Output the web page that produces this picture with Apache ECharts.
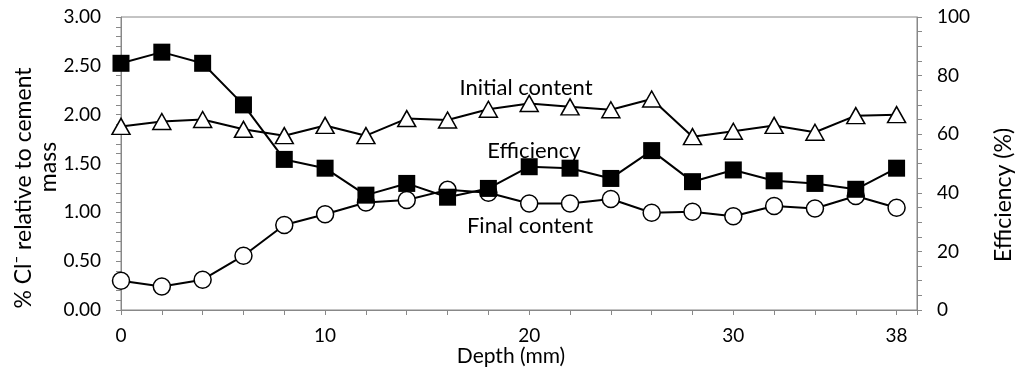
<!DOCTYPE html>
<html>
<head>
<meta charset="utf-8">
<script src="https://cdn.jsdelivr.net/npm/echarts@6/dist/echarts.min.js"></script>
<style>
html,body{margin:0;padding:0;background:#fff;}
#c{width:1024px;height:372px;}
</style>
</head>
<body>
<div id="c"></div>
<script>
const depth = [0,2,4,6,8,10,12,14,16,18,20,22,24,26,28,30,32,34,36,38];
const initialContent = [1.88,1.93,1.95,1.85,1.785,1.89,1.785,1.96,1.945,2.055,2.115,2.08,2.05,2.16,1.775,1.83,1.89,1.82,1.99,2.00];
const finalContent = [0.30,0.24,0.31,0.556,0.87,0.98,1.10,1.126,1.23,1.20,1.09,1.09,1.136,0.996,1.006,0.96,1.065,1.04,1.167,1.047];
const efficiency = [84.2,88.0,84.2,70.0,51.4,48.4,39.2,43.2,38.5,41.5,48.9,48.4,44.9,54.4,43.8,47.8,44.1,43.2,41.2,48.4];
const xLabels = [0,10,20,30,38];
const leftTitle = ['% Cl\u207B relative to cement','mass'];
const rightTitle = 'Efficiency (%)';
const xTitle = 'Depth (mm)';
const notes = ['Initial content','Efficiency','Final content'];

const FONT = 'Lato';
const AX = '#888888';
const pairs = arr => depth.map((d,i)=>[d,arr[i]]);

const chart = echarts.init(document.getElementById('c'), null, {renderer:'canvas'});
chart.setOption({
  animation:false,
  backgroundColor:'#fff',
  textStyle:{fontFamily:FONT,color:'#000'},
  grid:{left:121,right:107,top:17,bottom:62,show:true,borderColor:AX,borderWidth:1,backgroundColor:'transparent'},
  xAxis:{
    type:'value',min:0,max:39,interval:2,
    axisLine:{show:true,lineStyle:{color:AX,width:1}},
    axisTick:{show:true,length:5,lineStyle:{color:AX}},
    splitLine:{show:false},
    axisLabel:{margin:16,fontSize:19,fontFamily:FONT,color:'#000',
      formatter:v=>xLabels.indexOf(v)>=0?String(v):'',showMaxLabel:true},
  },
  yAxis:[{
    type:'value',min:0,max:3,interval:0.5,position:'left',
    axisLine:{show:true,lineStyle:{color:AX}},
    axisTick:{show:true,length:5,lineStyle:{color:AX}},
    minorTick:{show:true,splitNumber:5,length:5,lineStyle:{color:AX}},
    splitLine:{show:false},
    axisLabel:{margin:20,fontSize:19,fontFamily:FONT,color:'#000',formatter:v=>v.toFixed(2)}
  },{
    type:'value',min:0,max:100,interval:20,position:'right',
    axisLine:{show:true,lineStyle:{color:AX}},
    axisTick:{show:true,length:5,lineStyle:{color:AX}},
    minorTick:{show:true,splitNumber:4,length:5,lineStyle:{color:AX}},
    splitLine:{show:false},
    axisLabel:{margin:20,fontSize:19,fontFamily:FONT,color:'#000'}
  }],
  series:[{
    name:'Initial content',type:'line',yAxisIndex:0,data:pairs(initialContent),
    symbol:'triangle',symbolSize:[18,16],showAllSymbol:true,
    lineStyle:{color:'#000',width:2},
    itemStyle:{color:'#fff',borderColor:'#000',borderWidth:1.5},z:2
  },{
    name:'Final content',type:'line',yAxisIndex:0,data:pairs(finalContent),
    symbol:'circle',symbolSize:17,showAllSymbol:true,
    lineStyle:{color:'#000',width:2},
    itemStyle:{color:'#fff',borderColor:'#000',borderWidth:1.5},z:3
  },{
    name:'Efficiency',type:'line',yAxisIndex:1,data:pairs(efficiency),
    symbol:'rect',symbolSize:17,showAllSymbol:true,
    lineStyle:{color:'#000',width:2},
    itemStyle:{color:'#000',borderColor:'#000',borderWidth:0},z:4
  }],
  graphic:[
    {type:'text',x:24,y:188,rotation:Math.PI/2,style:{text:leftTitle[0],font:'23px '+FONT,fill:'#000',align:'center',verticalAlign:'middle'}},
    {type:'text',x:49,y:167,rotation:Math.PI/2,style:{text:leftTitle[1],font:'23px '+FONT,fill:'#000',align:'center',verticalAlign:'middle'}},
    {type:'text',x:1004,y:195,rotation:Math.PI/2,style:{text:rightTitle,font:'23px '+FONT,fill:'#000',align:'center',verticalAlign:'middle'}},
    {type:'text',x:511,y:356,style:{text:xTitle,font:'21px '+FONT,fill:'#000',align:'center',verticalAlign:'middle'}},
    {type:'text',x:526,y:88,z:10,style:{text:notes[0],font:'22px '+FONT,fill:'#000',align:'center',verticalAlign:'middle'}},
    {type:'text',x:534,y:151,z:10,style:{text:notes[1],font:'22px '+FONT,fill:'#000',align:'center',verticalAlign:'middle'}},
    {type:'text',x:530,y:226,z:10,style:{text:notes[2],font:'22px '+FONT,fill:'#000',align:'center',verticalAlign:'middle'}}
  ]
});
</script>
</body>
</html>
